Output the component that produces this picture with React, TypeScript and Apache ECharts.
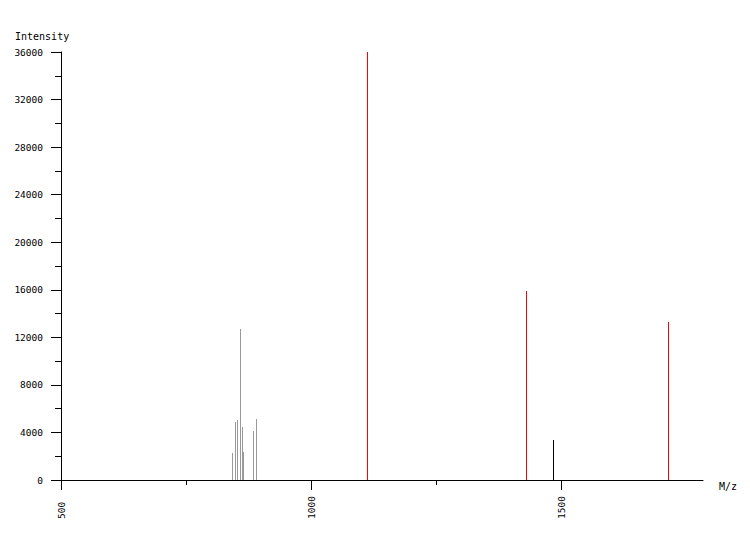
import React, { useEffect, useRef } from "react";
import * as echarts from "echarts";

// m/z, intensity
const greyPeaks: [number, number][] = [
  [843, 2250], [849, 4880], [853, 5050], [859, 12700],
  [863, 4460], [865, 2350], [885, 4120], [891, 5130],
];
const redPeaks: [number, number][] = [
  [1113, 36000], [1431, 15900], [1715, 13290],
];
const blackPeaks: [number, number][] = [[1485, 3360]];

const xMajorTicks = [500, 1000, 1500];
const xMinorTicks = [750, 1250];

const FONT = "'DejaVu Sans Mono', monospace";

function peakSeries(data: [number, number][], color: string) {
  return {
    type: "custom",
    xAxisIndex: 0,
    yAxisIndex: 0,
    data,
    renderItem: (params: any, api: any) => {
      const top = api.coord([api.value(0), api.value(1)]);
      const base = api.coord([api.value(0), 0]);
      const x = Math.floor(top[0]);
      const y = Math.round(top[1]);
      return {
        type: "rect",
        shape: { x, y, width: 1, height: Math.round(base[1]) - y },
        style: { fill: color },
      };
    },
  };
}

export default function App() {
  const ref = useRef<HTMLDivElement>(null);
  useEffect(() => {
    if (!ref.current) return;
    const chart = echarts.init(ref.current, null, { renderer: "svg" });
    const axisLine = { show: true, lineStyle: { color: "#000", width: 1 } };
    const fmt = (v: number) => String(v);
    chart.setOption({
      animation: false,
      backgroundColor: "#fff",
      grid: { left: 61, top: 52, right: 47, bottom: 60 },
      xAxis: [
        {
          type: "value",
          min: 500,
          max: 1784,
          interval: 500,
          axisLine: { ...axisLine, onZero: false },
          axisTick: { show: true, length: 10, customValues: xMajorTicks, lineStyle: { color: "#000" } },
          axisLabel: {
            customValues: xMajorTicks,
            formatter: fmt,
            rotate: 90,
            align: "left",
            verticalAlign: "middle",
            margin: 39,
            color: "#000",
            fontFamily: FONT,
            fontSize: 9.5,
          },
          splitLine: { show: false },
        },
        {
          type: "value",
          min: 500,
          max: 1784,
          position: "bottom",
          axisLine: { show: false },
          axisTick: { show: true, length: 5, customValues: xMinorTicks, lineStyle: { color: "#000" } },
          axisLabel: { show: false },
          splitLine: { show: false },
        },
      ],
      yAxis: {
        type: "value",
        min: 0,
        max: 36000,
        interval: 4000,
        axisLine,
        axisTick: { show: true, length: 10, lineStyle: { color: "#000" } },
        minorTick: { show: true, splitNumber: 2, length: 6, lineStyle: { color: "#000" } },
        axisLabel: {
          formatter: fmt,
          margin: 18,
          color: "#000",
          fontFamily: FONT,
          fontSize: 9.5,
        },
        splitLine: { show: false },
      },
      graphic: [
        {
          type: "text",
          left: 15,
          top: 31,
          style: { text: "Intensity", fill: "#000", font: `10px ${FONT}` },
        },
        {
          type: "text",
          left: 719,
          top: 481,
          style: { text: "M/z", fill: "#000", font: `10px ${FONT}` },
        },
      ],
      series: [
        peakSeries(greyPeaks, "#999999"),
        peakSeries(redPeaks, "#ff0000"),
        peakSeries(blackPeaks, "#000000"),
      ],
    });
    return () => chart.dispose();
  }, []);
  return (
    <div
      ref={ref}
      style={{ position: "fixed", left: 0, top: 0, width: 750, height: 540 }}
    />
  );
}
